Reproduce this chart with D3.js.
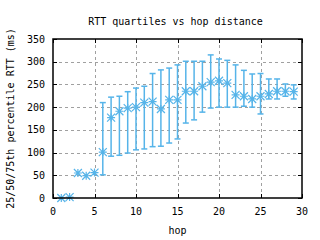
<!DOCTYPE html>
<html>
<head>
<meta charset="utf-8">
<script src="https://cdn.jsdelivr.net/npm/d3@7"></script>
<style>
  body { margin: 0; background: #fff; }
  text { font-family: "DejaVu Sans Mono", monospace; font-size: 10px; fill: #000; }
</style>
</head>
<body>
<svg class="chart"></svg>
<script>
var hops = [1, 2, 3, 4, 5, 6, 7, 8, 9, 10, 11, 12, 13, 14, 15, 16, 17, 18, 19, 20, 21, 22, 23, 24, 25, 26, 27, 28, 29];
var median = [0, 2, 55, 49, 56, 101, 177, 191, 198, 200, 210, 212, 196, 216, 216, 235, 235, 246, 255, 258, 253, 227, 224, 218, 224, 229, 235, 235, 234];
var q25 = [0, 2, 55, 49, 56, 51, 92, 94, 99, 106, 108, 113, 114, 121, 130, 165, 172, 189, 198, 200, 200, 200, 202, 200, 185, 218, 218, 224, 218];
var q75 = [0, 2, 55, 49, 56, 210, 222, 224, 234, 242, 246, 274, 282, 286, 293, 301, 301, 301, 315, 306, 303, 293, 281, 273, 274, 262, 262, 251, 249];
var xTicks = [0, 5, 10, 15, 20, 25, 30];
var yTicks = [0, 50, 100, 150, 200, 250, 300, 350];

function show() {
    'use strict';
    var width = 320, height = 240;
    var left = 53, right = 302, top = 39, bottom = 198;
    var blue = "#56b4e9";

    var svg = d3.select(".chart")
        .attr("width", width)
        .attr("height", height);

    var x = d3.scaleLinear().domain([0, 30]).range([left, right]);
    var y = d3.scaleLinear().domain([0, 350]).range([bottom, top]);

    // grid
    var grid = svg.append("g").attr("stroke", "#a0a0a0").attr("stroke-dasharray", "3,3");
    grid.selectAll(".gx").data(xTicks.slice(1, -1)).enter().append("line")
        .attr("x1", function (d) { return Math.round(x(d)) + 0.5; })
        .attr("x2", function (d) { return Math.round(x(d)) + 0.5; })
        .attr("y1", top).attr("y2", bottom);
    grid.selectAll(".gy").data(yTicks.slice(1, -1)).enter().append("line")
        .attr("y1", function (d) { return Math.round(y(d)) + 0.5; })
        .attr("y2", function (d) { return Math.round(y(d)) + 0.5; })
        .attr("x1", left).attr("x2", right);

    // ticks (inward, mirrored)
    var ticks = svg.append("g").attr("stroke", "#000");
    ticks.selectAll(".tyl").data(yTicks).enter().append("line")
        .attr("x1", left).attr("x2", left + 4)
        .attr("y1", function (d) { return Math.round(y(d)) + 0.5; })
        .attr("y2", function (d) { return Math.round(y(d)) + 0.5; });
    ticks.selectAll(".tyr").data(yTicks).enter().append("line")
        .attr("x1", right).attr("x2", right - 4)
        .attr("y1", function (d) { return Math.round(y(d)) + 0.5; })
        .attr("y2", function (d) { return Math.round(y(d)) + 0.5; });
    ticks.selectAll(".txb").data(xTicks).enter().append("line")
        .attr("y1", bottom).attr("y2", bottom - 4)
        .attr("x1", function (d) { return Math.round(x(d)) + 0.5; })
        .attr("x2", function (d) { return Math.round(x(d)) + 0.5; });
    ticks.selectAll(".txt").data(xTicks).enter().append("line")
        .attr("y1", top).attr("y2", top + 4)
        .attr("x1", function (d) { return Math.round(x(d)) + 0.5; })
        .attr("x2", function (d) { return Math.round(x(d)) + 0.5; });

    // tick labels
    svg.selectAll(".ly").data(yTicks).enter().append("text")
        .attr("x", left - 8).attr("y", function (d) { return y(d) + 3.5; })
        .attr("text-anchor", "end").text(function (d) { return d; });
    svg.selectAll(".lx").data(xTicks).enter().append("text")
        .attr("x", function (d) { return x(d); }).attr("y", bottom + 17)
        .attr("text-anchor", "middle").text(function (d) { return d; });

    // error bars
    var data = hops.map(function (h, i) { return {h: h, m: median[i], lo: q25[i], hi: q75[i]}; });
    var eb = svg.append("g").attr("stroke", blue).attr("stroke-width", 1.5);
    data.forEach(function (d) {
        if (d.hi - d.lo < 1) return;
        var cx = x(d.h);
        eb.append("line").attr("x1", cx).attr("x2", cx).attr("y1", y(d.lo)).attr("y2", y(d.hi));
        eb.append("line").attr("x1", cx - 3).attr("x2", cx + 3).attr("y1", y(d.lo)).attr("y2", y(d.lo));
        eb.append("line").attr("x1", cx - 3).attr("x2", cx + 3).attr("y1", y(d.hi)).attr("y2", y(d.hi));
    });

    // asterisk markers
    var s = 4;
    var pts = svg.append("g").attr("stroke", blue).attr("stroke-width", 1.2);
    data.forEach(function (d) {
        var cx = x(d.h), cy = y(d.m);
        pts.append("path").attr("d",
            "M" + (cx - s) + "," + cy + "H" + (cx + s) +
            "M" + cx + "," + (cy - s) + "V" + (cy + s) +
            "M" + (cx - s) + "," + (cy - s) + "L" + (cx + s) + "," + (cy + s) +
            "M" + (cx - s) + "," + (cy + s) + "L" + (cx + s) + "," + (cy - s));
    });

    // border
    svg.append("rect").attr("x", left).attr("y", top)
        .attr("width", right - left).attr("height", bottom - top)
        .attr("fill", "none").attr("stroke", "#000").attr("stroke-width", 1.5);

    // titles
    svg.append("text").attr("x", (left + right) / 2 - 2).attr("y", 25)
        .attr("text-anchor", "middle").text("RTT quartiles vs hop distance");
    svg.append("text").attr("x", (left + right) / 2).attr("y", 234)
        .attr("text-anchor", "middle").text("hop");
    svg.append("text").attr("transform", "translate(14," + ((top + bottom) / 2) + ") rotate(-90)")
        .attr("text-anchor", "middle").text("25/50/75th percentile RTT (ms)");
}
show();
</script>
</body>
</html>
